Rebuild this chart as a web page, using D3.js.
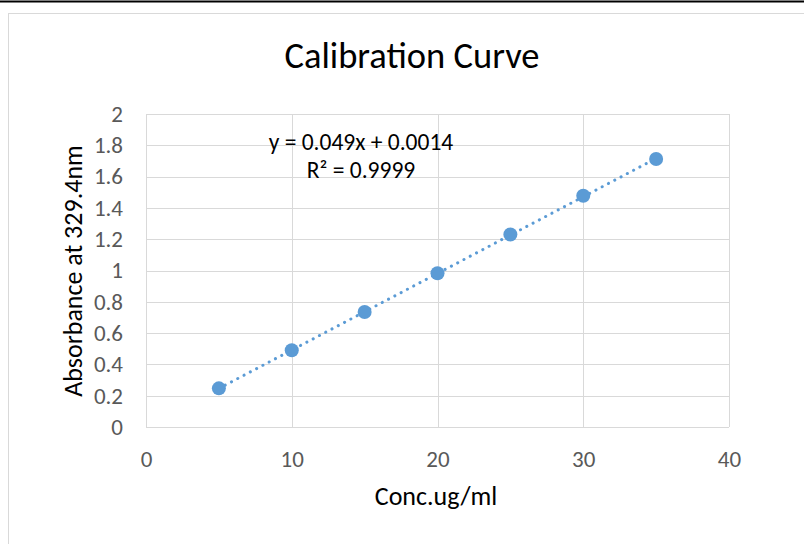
<!DOCTYPE html>
<html>
<head>
<meta charset="utf-8">
<script src="https://cdn.jsdelivr.net/npm/d3@7"></script>
<style>
  body { margin: 0; background: #fff; }
  svg text { font-family: Carlito, Calibri, Lato, "Open Sans", sans-serif; }
</style>
</head>
<body>
<div id="chart"></div>
<script>
// data
const concentrations = [5, 10, 15, 20, 25, 30, 35];
const absorbances = [0.247, 0.490, 0.735, 0.982, 1.230, 1.478, 1.712];
const xTicks = [0, 10, 20, 30, 40];
const yTicks = [0, 0.2, 0.4, 0.6, 0.8, 1, 1.2, 1.4, 1.6, 1.8, 2];
const slope = 0.049, intercept = 0.0014;
const equationLines = ['y = 0.049x + 0.0014', 'R² = 0.9999'];

const svgWidth = 804, svgHeight = 544;
const margin = { top: 114, right: 75, bottom: 117, left: 146 };
const width = svgWidth - margin.left - margin.right,
  height = svgHeight - margin.top - margin.bottom;
const blue = '#5b9bd5', grid = '#d9d9d9', tickColor = '#595959';

const svg = d3.select('#chart').append('svg')
  .attr('width', svgWidth)
  .attr('height', svgHeight);

// page line and chart frame
svg.append('line')
  .attr('x1', 0).attr('x2', svgWidth)
  .attr('y1', 1.5).attr('y2', 1.5)
  .attr('stroke', '#000').attr('stroke-width', 2);
svg.append('rect')
  .attr('x', 8.5).attr('y', 13.5)
  .attr('width', 810).attr('height', 560)
  .attr('fill', 'none').attr('stroke', grid);

const x = d3.scaleLinear().domain([0, 40]).range([0, width]);
const y = d3.scaleLinear().domain([0, 2]).range([height, 0]);

const g = svg.append('g').attr('transform', `translate(${margin.left},${margin.top})`);

// gridlines
g.append('g')
  .call(d3.axisLeft(y).tickValues(yTicks).tickSize(-width).tickFormat(''))
  .call(a => a.select('.domain').remove())
  .call(a => a.selectAll('line').attr('stroke', grid).attr('shape-rendering', 'crispEdges'));
g.append('g')
  .attr('transform', `translate(0,${height})`)
  .call(d3.axisBottom(x).tickValues(xTicks).tickSize(-height).tickFormat(''))
  .call(a => a.select('.domain').remove())
  .call(a => a.selectAll('line').attr('stroke', grid).attr('shape-rendering', 'crispEdges'));

// tick labels
g.append('g')
  .call(d3.axisLeft(y).tickValues(yTicks).tickSize(0).tickPadding(23).tickFormat(d => d3.format('')(+d.toFixed(1))))
  .call(a => a.select('.domain').remove())
  .call(a => a.selectAll('text').attr('fill', tickColor).attr('font-size', 23));
g.append('g')
  .attr('transform', `translate(0,${height})`)
  .call(d3.axisBottom(x).tickValues(xTicks).tickSize(0).tickPadding(24))
  .call(a => a.select('.domain').remove())
  .call(a => a.selectAll('text').attr('fill', tickColor).attr('font-size', 23));

// trendline
g.append('line')
  .attr('x1', x(d3.min(concentrations))).attr('y1', y(slope * d3.min(concentrations) + intercept))
  .attr('x2', x(d3.max(concentrations))).attr('y2', y(slope * d3.max(concentrations) + intercept))
  .attr('stroke', blue).attr('stroke-width', 3)
  .attr('stroke-linecap', 'round')
  .attr('stroke-dasharray', '0.1 7');

// points
g.selectAll('.pt')
  .data(concentrations.map((c, i) => ({ c, a: absorbances[i] })))
  .enter().append('circle')
  .attr('class', 'pt')
  .attr('cx', d => x(d.c))
  .attr('cy', d => y(d.a))
  .attr('r', 7)
  .attr('fill', blue);

// equation
svg.append('g').selectAll('text')
  .data(equationLines)
  .enter().append('text')
  .attr('x', 361)
  .attr('y', (d, i) => 150 + i * 28)
  .attr('text-anchor', 'middle')
  .attr('font-size', 23.5)
  .attr('fill', '#000')
  .text(d => d);

// titles
svg.append('text')
  .attr('x', 412).attr('y', 68)
  .attr('text-anchor', 'middle')
  .attr('font-size', 36.5)
  .text('Calibration Curve');
svg.append('text')
  .attr('x', 436).attr('y', 505)
  .attr('text-anchor', 'middle')
  .attr('font-size', 26)
  .text('Conc.ug/ml');
svg.append('text')
  .attr('transform', 'translate(82,271) rotate(-90)')
  .attr('text-anchor', 'middle')
  .attr('font-size', 26)
  .text('Absorbance at 329.4nm');
</script>
</body>
</html>
